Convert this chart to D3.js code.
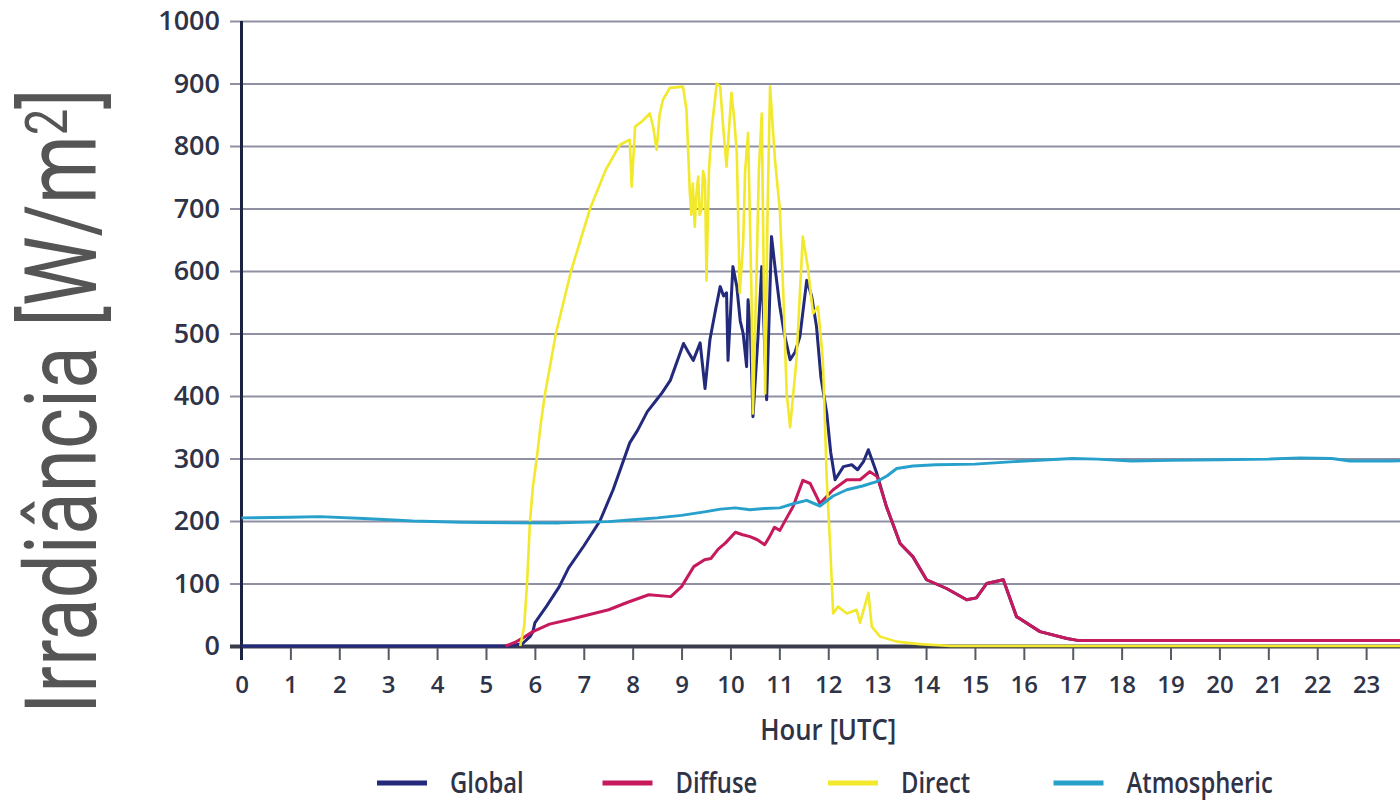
<!DOCTYPE html>
<html>
<head>
<meta charset="utf-8">
<script src="https://cdn.jsdelivr.net/npm/d3@7/dist/d3.min.js"></script>
<style>
  html, body { margin: 0; padding: 0; background: #ffffff; }
  svg { display: block; }
</style>
</head>
<body>
<svg id="chart" width="1400" height="802"></svg>
<script>
// ---------------- data ----------------
const seriesNames = ["Global", "Diffuse", "Direct", "Atmospheric"];
const xTickLabels = [0,1,2,3,4,5,6,7,8,9,10,11,12,13,14,15,16,17,18,19,20,21,22,23];
const yTickValues = [0,100,200,300,400,500,600,700,800,900,1000];
const yTitle = "Irradiância [W/m";
const yTitleSup = "2";
const xTitle = "Hour [UTC]";

// [hour, W/m2]
const globalData = [
  [0,0],[5.5,0],[5.75,4],[5.9,15],[5.96,23],[6.0,37],[6.25,65],[6.5,95],[6.69,125],
  [7.0,160],[7.33,200],[7.6,250],[7.94,325],[8.1,345],[8.3,375],[8.49,394],[8.6,405],
  [8.77,425],[9.04,484],[9.14,470],[9.24,457],[9.38,485],[9.48,412],[9.58,490],[9.7,540],
  [9.79,575],[9.86,560],[9.92,565],[9.95,457],[10.05,607],[10.13,575],[10.2,520],[10.26,500],
  [10.33,447],[10.36,554],[10.41,500],[10.46,367],[10.56,490],[10.64,607],[10.74,394],
  [10.84,655],[10.92,600],[11.01,543],[11.1,500],[11.22,458],[11.32,470],[11.42,495],
  [11.56,585],[11.66,560],[11.76,511],[11.85,430],[11.97,372],[12.05,310],[12.14,266],
  [12.31,287],[12.48,290],[12.6,282],[12.72,295],[12.82,314],[12.99,277],[13.19,223],
  [13.47,164],[13.73,143],[14.01,106],[14.42,92],[14.83,74],[15.03,77],[15.24,100],
  [15.58,106],[15.85,47],[16.33,23],[16.88,12],[17.1,9],[24,9]
];
const diffuseData = [
  [5.4,0],[5.6,6],[5.8,15],[5.96,23],[6.3,35],[6.69,42],[7.1,50],[7.51,58],[7.9,70],
  [8.33,82],[8.78,79],[9.0,95],[9.25,127],[9.47,138],[9.6,140],[9.75,155],[9.9,165],
  [10.1,182],[10.25,178],[10.4,175],[10.55,170],[10.7,162],[10.8,175],[10.9,190],[11.01,185],
  [11.15,205],[11.28,223],[11.48,265],[11.63,260],[11.83,228],[12.1,250],[12.38,266],
  [12.65,266],[12.85,279],[13.0,271],[13.19,223],[13.47,164],[13.73,143],[14.01,106],
  [14.42,92],[14.83,74],[15.03,77],[15.24,100],[15.58,106],[15.85,47],[16.33,23],
  [16.88,12],[17.1,9],[24,9]
];
const directData = [
  [5.7,0],[5.78,30],[5.84,100],[5.9,200],[5.96,255],[6.04,301],[6.12,355],[6.2,400],
  [6.43,500],[6.74,600],[7.13,700],[7.45,762],[7.74,802],[7.94,810],[7.98,735],[8.05,831],
  [8.2,840],[8.35,852],[8.42,830],[8.49,794],[8.55,850],[8.62,874],[8.76,893],[9.03,895],
  [9.1,858],[9.17,724],[9.2,690],[9.23,740],[9.27,671],[9.3,720],[9.34,751],[9.37,690],
  [9.41,700],[9.44,760],[9.48,746],[9.51,585],[9.56,760],[9.62,831],[9.72,900],[9.79,895],
  [9.85,831],[9.92,767],[10.02,885],[10.08,840],[10.13,788],[10.19,565],[10.26,645],
  [10.3,760],[10.36,821],[10.43,565],[10.46,372],[10.54,618],[10.58,760],[10.64,852],
  [10.71,404],[10.76,700],[10.81,895],[10.91,778],[11.01,698],[11.08,565],[11.15,404],
  [11.22,350],[11.35,458],[11.48,655],[11.58,607],[11.69,532],[11.79,543],[11.89,457],
  [11.97,266],[12.04,159],[12.1,52],[12.2,63],[12.38,52],[12.58,58],[12.65,37],[12.82,85],
  [12.89,31],[13.06,15],[13.4,7],[13.87,3],[14.5,0],[24,0]
];
const atmosphericData = [
  [0,205],[1,206],[1.6,207],[2.5,204],[3.5,200],[4.5,198],[5.5,197],[6.5,197],[7.5,199],
  [8.0,202],[8.5,205],[9.0,209],[9.5,215],[9.8,219],[10.1,221],[10.4,218],[10.7,220],
  [11.01,221],[11.3,228],[11.56,233],[11.83,224],[12.1,240],[12.38,250],[12.7,256],
  [12.99,263],[13.2,272],[13.4,284],[13.73,288],[14.2,290],[15,291],[15.8,295],[16.5,298],
  [17,300],[17.5,299],[18.2,296],[19,297],[20,298],[21,299],[21.65,301],[22.3,300],
  [22.67,296],[23.5,296],[24,297]
];
const seriesData = [globalData, diffuseData, directData, atmosphericData];
const seriesColors = ["#232a7c", "#c61a5d", "#f2e82c", "#27a1cb"];

// ---------------- drawing ----------------
const svg = d3.select("#chart");
svg.append("rect").attr("width", 1400).attr("height", 802).attr("fill", "#ffffff");

const x = d3.scaleLinear().domain([0, 24]).range([241.5, 1415]);
const y = d3.scaleLinear().domain([0, 1000]).range([646, 21]);

const labelFont = "'Open Sans', 'DejaVu Sans', sans-serif";
const textColor = "#2f3347";

// y grid + labels
const yAxis = d3.axisLeft(y).tickValues(yTickValues).tickSize(-(1400 - 230)).tickPadding(10).tickFormat(d3.format("d"));
const gy = svg.append("g").attr("transform", "translate(230,0)").call(yAxis);
gy.select(".domain").remove();
gy.selectAll(".tick line")
  .attr("stroke", d => d === 0 ? "#3a3b4c" : "#8f91a3")
  .attr("stroke-width", d => d === 0 ? 4 : 2);
gy.selectAll(".tick text")
  .attr("font-family", labelFont).attr("font-size", 27).attr("font-weight", 600)
  .attr("fill", textColor);

// x axis ticks + labels
const xAxis = d3.axisBottom(x).tickValues(xTickLabels).tickSize(12).tickPadding(16).tickFormat(d3.format("d"));
const gx = svg.append("g").attr("transform", "translate(0,648)").call(xAxis);
gx.select(".domain").remove();
gx.selectAll(".tick line").attr("stroke", "#555a66").attr("stroke-width", 2);
gx.selectAll(".tick text")
  .attr("font-family", labelFont).attr("font-size", 24).attr("font-weight", 600)
  .attr("fill", textColor);

// y axis vertical line
svg.append("line")
  .attr("x1", x(0)).attr("x2", x(0))
  .attr("y1", y(1000)).attr("y2", 660)
  .attr("stroke", "#1c2340").attr("stroke-width", 3);

// series
const line = d3.line().x(d => x(d[0])).y(d => y(d[1]));
const widths = [3, 3, 2.6, 3];
seriesData.forEach((data, i) => {
  svg.append("path")
    .datum(data)
    .attr("fill", "none")
    .attr("stroke", seriesColors[i])
    .attr("stroke-width", widths[i])
    .attr("stroke-linejoin", "round")
    .attr("d", line);
});

// x title
svg.append("text")
  .attr("x", x(12)).attr("y", 740)
  .attr("text-anchor", "middle")
  .attr("font-family", labelFont).attr("font-size", 28).attr("font-weight", 600)
  .attr("fill", textColor)
  .attr("transform", `translate(${x(12)},0) scale(0.92,1) translate(${-x(12)},0)`)
  .text(xTitle);

// legend
const legend = svg.append("g");
seriesNames.forEach((name, i) => {
  const x0 = 377 + i * 225.5;
  legend.append("line")
    .attr("x1", x0).attr("x2", x0 + 50)
    .attr("y1", 783).attr("y2", 783)
    .attr("stroke", seriesColors[i]).attr("stroke-width", 5);
  legend.append("text")
    .attr("transform", `translate(${x0 + 73},793) scale(0.85,1)`)
    .attr("font-family", labelFont).attr("font-size", 28).attr("font-weight", 600)
    .attr("fill", textColor)
    .text(name);
});

// y title (large, rotated)
const yt = svg.append("text")
  .attr("font-family", "Roboto, 'Open Sans', sans-serif")
  .attr("font-size", 100).attr("font-weight", 400)
  .attr("fill", "#555555");
yt.append("tspan").text(yTitle);
yt.append("tspan").attr("font-size", 60).attr("dy", -29).text(yTitleSup);
yt.append("tspan").attr("dy", 29).text("]");
const len = yt.node().getComputedTextLength();
const sx = 626 / len;
yt.attr("transform", `translate(96,714) rotate(-90) scale(${sx},1)`);
</script>
</body>
</html>
